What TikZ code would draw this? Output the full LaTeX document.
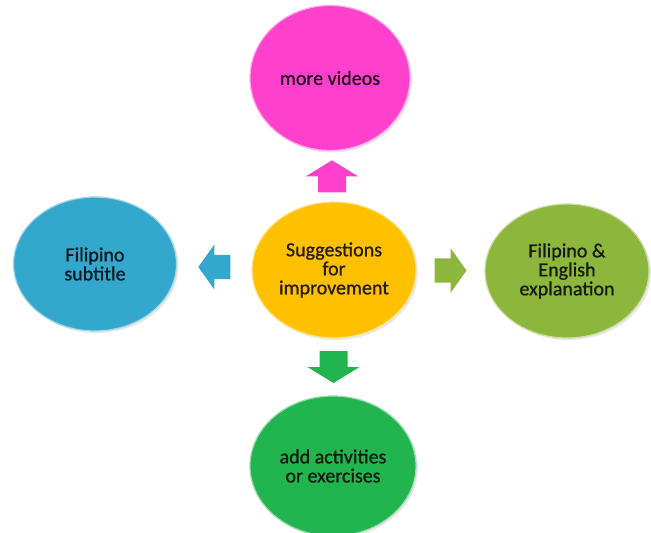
\documentclass[tikz,border=0pt]{standalone}
\usepackage{fontspec}
\setmainfont{Carlito}
\newfontfamily\bubblefont{Carlito}[FakeBold=0.8]
\usetikzlibrary{shapes.geometric}
\usetikzlibrary{shadows}
\usetikzlibrary{calc}
\definecolor{bubblepink}{RGB}{255, 64, 204}
\definecolor{bubbleyellow}{RGB}{255, 192, 0}
\definecolor{bubbleblue}{RGB}{52, 168, 204}
\definecolor{bubbleolive}{RGB}{140, 182, 60}
\definecolor{bubblegreen}{RGB}{34, 180, 78}

\tikzset{
  bubble/.style={ellipse, inner sep=0pt, align=center,
    font=\bubblefont\fontsize{20}{19}\selectfont, fill=#1, draw=#1!45!white,
    line width=1.2pt, text=#1!15!black,
    drop shadow={opacity=0.18, shadow xshift=2pt, shadow yshift=-2pt}},
  % fat arrow pointing along +x, centred on its own origin
  pics/blockarrow/.style={code={
    \fill[#1] (-16, -14) -- (0, -14) -- (0, -26) -- (16, 0)
      -- (0, 26) -- (0, 14) -- (-16, 14) -- cycle;
  }}
}

\begin{document}
\begin{tikzpicture}[x=1pt, y=-1pt]
\useasboundingbox (0, 0) rectangle (651, 533);
\node[bubble=bubbleyellow, minimum width=164pt, minimum height=136pt] (center) at (334, 270) {Suggestions\\for\\improvement};
\node[bubble=bubblepink, minimum width=160pt, minimum height=145pt] (top) at (330, 78) {more videos};
\node[bubble=bubbleblue, minimum width=163pt, minimum height=134pt] (left) at (95, 264) {Filipino\\subtitle};
\node[bubble=bubbleolive, minimum width=164pt, minimum height=134pt] (right) at (567, 271) {Filipino \&\\English\\explanation};
\node[bubble=bubblegreen, minimum width=166pt, minimum height=140pt] (bottom) at (333, 466) {add activities\\or exercises};

% arrows sit halfway in the gaps
\pic[rotate=90] (uparrow) at ($(center.north)!0.5!(top.south)$) {blockarrow=bubblepink};
\pic[rotate=-90] (downarrow) at ($(center.south)!0.5!(bottom.north)$) {blockarrow=bubblegreen};
\pic[rotate=180, yscale=0.86] (leftarrow) at ($(center.west)!0.5!(left.east)$) {blockarrow=bubbleblue};
\pic[yscale=0.86] (rightarrow) at ($(center.east)!0.5!(right.west)$) {blockarrow=bubbleolive};
\end{tikzpicture}
\end{document}
